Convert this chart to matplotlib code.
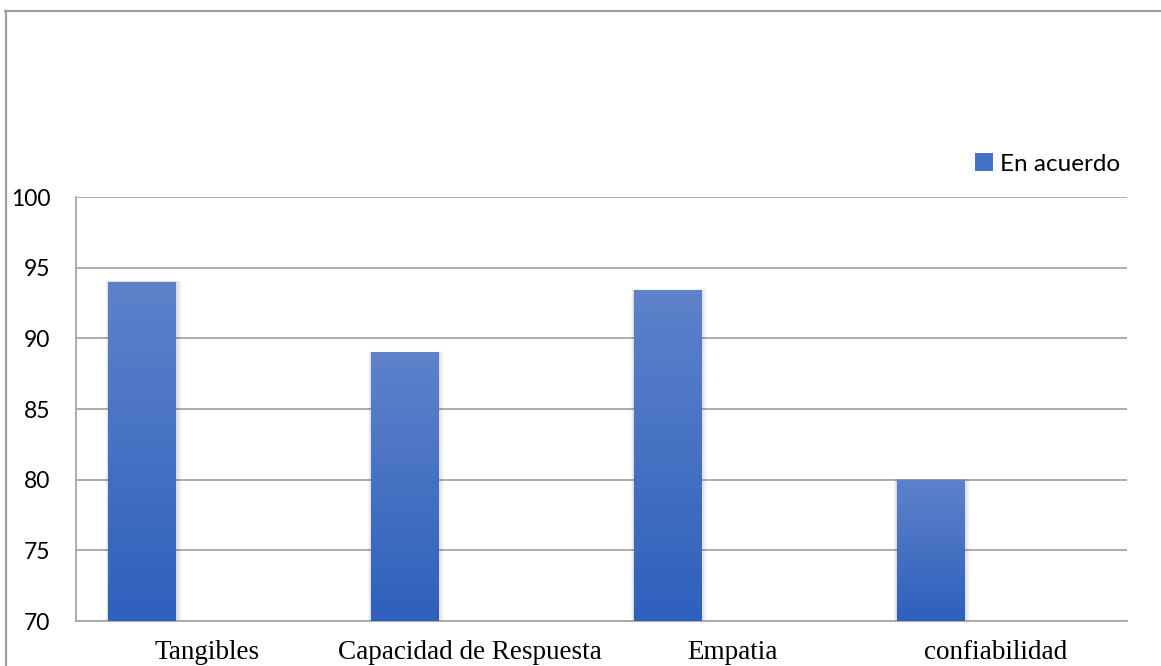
import numpy as np
import matplotlib
matplotlib.use("Agg")
import matplotlib.pyplot as plt
from matplotlib.colors import LinearSegmentedColormap
from matplotlib.lines import Line2D
from matplotlib.patches import Rectangle

categories = ["Tangibles", "Capacidad de Respuesta", "Empatia", "confiabilidad"]
en_acuerdo = [94.0, 89.0, 93.4, 80.0]
y_ticks = [70, 75, 80, 85, 90, 95, 100]
series_name = "En acuerdo"

W, H = 1161, 666
fig = plt.figure(figsize=(W / 100, H / 100), dpi=100)
ax = fig.add_axes([76 / W, 1 - 621 / H, (1127 - 76) / W, (621 - 197) / H])

grid_col = "#a6a6a6"
ax.set_ylim(70, 100)
ax.set_xlim(-0.5, len(categories) - 0.5)
ax.set_yticks(y_ticks)
ax.yaxis.grid(True, color=grid_col, lw=1.3)
ax.set_axisbelow(True)
for s in ["top", "right"]:
    ax.spines[s].set_visible(False)
ax.spines["left"].set_color(grid_col)
ax.spines["left"].set_linewidth(1.3)
ax.spines["bottom"].set_color(grid_col)
ax.spines["bottom"].set_linewidth(1.3)
ax.tick_params(axis="both", length=0)
ax.tick_params(axis="y", pad=18.5, labelsize=16.5)
ax.tick_params(axis="x", pad=14, labelsize=19.5)
for lab in ax.get_yticklabels():
    lab.set_fontfamily("Lato")
ax.set_xticks(range(len(categories)))
ax.set_xticklabels(categories, fontfamily="Liberation Serif")

x = np.arange(len(categories))
offset = -0.249
width = 0.255
cmap = LinearSegmentedColormap.from_list("bar", ["#2e60bc", "#5e82cb"])
grad = np.linspace(0, 1, 256).reshape(-1, 1)

bars = ax.bar(x + offset, [v - 70 for v in en_acuerdo], width=width, bottom=70,
              color="#4472c4", zorder=3, label=series_name)

# soft shadow behind each bar
for b in bars:
    x0, y0 = b.get_x(), b.get_y()
    w, h = b.get_width(), b.get_height()
    for k in range(6):
        dx = 0.004 + k * 0.0035
        dy = 0.03 + k * 0.02
        ax.add_patch(Rectangle((x0 - dx * 0.5, y0), w + dx * 1.6, h + dy * 0.6,
                               facecolor="black", alpha=0.025, lw=0, zorder=2))

# vertical gradient fill
for b in bars:
    x0, y0 = b.get_x(), b.get_y()
    w, h = b.get_width(), b.get_height()
    im = ax.imshow(grad, extent=[x0, x0 + w, y0, y0 + h], origin="lower",
                   cmap=cmap, aspect="auto", zorder=3.5, interpolation="bicubic")
    im.set_clip_path(b)
ax.set_xlim(-0.5, len(categories) - 0.5)
ax.set_ylim(70, 100)

leg = fig.legend(handles=[Rectangle((0, 0), 1, 1, facecolor="#4472c4")],
                 labels=[series_name], loc="center left",
                 bbox_to_anchor=(953 / W, 1 - 164 / H), frameon=False,
                 handlelength=0.75, handleheight=0.75, handletextpad=0.3,
                 prop={"family": "Lato", "size": 17.5})

# outer frame lines
fig.add_artist(Line2D([5 / W, 1], [1 - 10.5 / H, 1 - 10.5 / H], color="#a0a0a0", lw=1.6,
                      transform=fig.transFigure))
fig.add_artist(Line2D([5.5 / W, 5.5 / W], [0, 1 - 10.5 / H], color="#a0a0a0", lw=1.6,
                      transform=fig.transFigure))

fig.savefig("out.png", dpi=100)
